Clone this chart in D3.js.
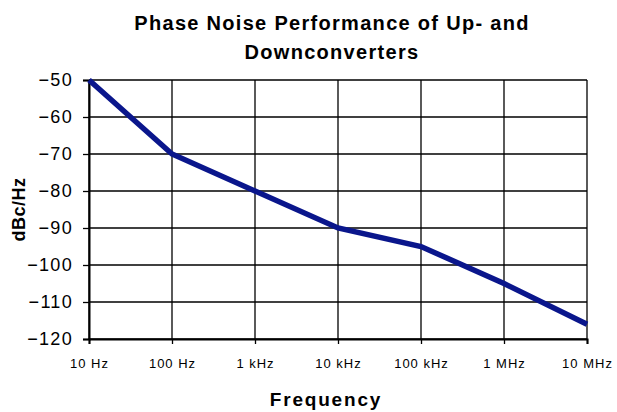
<!DOCTYPE html>
<html>
<head>
<meta charset="utf-8">
<script src="https://cdn.jsdelivr.net/npm/d3@7"></script>
<style>
  body { margin: 0; background: #fff; }
  text { font-family: "Liberation Sans", Arial, sans-serif; fill: #000; }
</style>
</head>
<body>
<div class="canvas"></div>
<script>
var freqs = [10, 100, 1e3, 1e4, 1e5, 1e6, 1e7];
var freqLabels = ["10 Hz", "100 Hz", "1 kHz", "10 kHz", "100 kHz", "1 MHz", "10 MHz"];
var noise = [-50, -70, -80, -90, -95, -105, -116];
var yTicks = [-50, -60, -70, -80, -90, -100, -110, -120];

var width = 617, height = 412;
var margin = {left: 89, right: 30, top: 80, bottom: 73};

var svg = d3.select(".canvas").append("svg")
    .attr("width", width)
    .attr("height", height);

var x = d3.scaleLog().domain([10, 1e7]).range([margin.left, width - margin.right]);
var y = d3.scaleLinear().domain([-120, -50]).range([height - margin.bottom, margin.top]);

// horizontal gridlines
svg.append("g").selectAll("line").data(yTicks).enter().append("line")
   .attr("x1", margin.left).attr("x2", width - margin.right)
   .attr("y1", function (d) { return y(d); })
   .attr("y2", function (d) { return y(d); })
   .attr("stroke", "#000").attr("stroke-width", 1.3);

// vertical gridlines
svg.append("g").selectAll("line").data(freqs).enter().append("line")
   .attr("x1", function (d) { return x(d); })
   .attr("x2", function (d) { return x(d); })
   .attr("y1", margin.top).attr("y2", height - margin.bottom)
   .attr("stroke", "#000").attr("stroke-width", 1.3);

var yAxis = svg.append("g")
    .attr("transform", "translate(" + margin.left + ",0)")
    .call(d3.axisLeft(y).tickValues(yTicks).tickSize(6).tickPadding(10));
yAxis.select(".domain").attr("stroke-width", 2);
yAxis.selectAll(".tick line").attr("stroke-width", 1.3);
yAxis.selectAll("text").style("font-size", "18px").style("letter-spacing", "1.3px");

var xAxis = svg.append("g")
    .attr("transform", "translate(0," + (height - margin.bottom) + ")")
    .call(d3.axisBottom(x).tickValues(freqs)
        .tickFormat(function (d, i) { return freqLabels[i]; })
        .tickSize(5).tickPadding(15));
xAxis.select(".domain").attr("stroke-width", 2);
xAxis.selectAll(".tick line").attr("stroke-width", 1.3);
xAxis.selectAll("text").style("font-size", "13px").style("letter-spacing", "1px");

var line = d3.line()
    .x(function (d, i) { return x(freqs[i]); })
    .y(function (d) { return y(d); });

svg.append("path")
   .datum(noise)
   .attr("d", line)
   .attr("fill", "none")
   .attr("stroke", "#0a168c")
   .attr("stroke-width", 5.5);

var cx = 332;
svg.append("text").attr("x", cx).attr("y", 30)
   .attr("text-anchor", "middle")
   .style("font-size", "20px").style("font-weight", "bold").style("letter-spacing", "1.3px")
   .text("Phase Noise Performance of Up- and");
svg.append("text").attr("x", cx).attr("y", 59)
   .attr("text-anchor", "middle")
   .style("font-size", "20px").style("font-weight", "bold").style("letter-spacing", "1.3px")
   .text("Downconverters");

svg.append("text").attr("x", 326).attr("y", 406)
   .attr("text-anchor", "middle")
   .style("font-size", "19px").style("font-weight", "bold").style("letter-spacing", "1.8px")
   .text("Frequency");

svg.append("text")
   .attr("transform", "translate(25," + ((margin.top + height - margin.bottom) / 2) + ") rotate(-90)")
   .attr("text-anchor", "middle")
   .style("font-size", "18px").style("font-weight", "bold").style("letter-spacing", "0.5px")
   .text("dBc/Hz");
</script>
</body>
</html>
